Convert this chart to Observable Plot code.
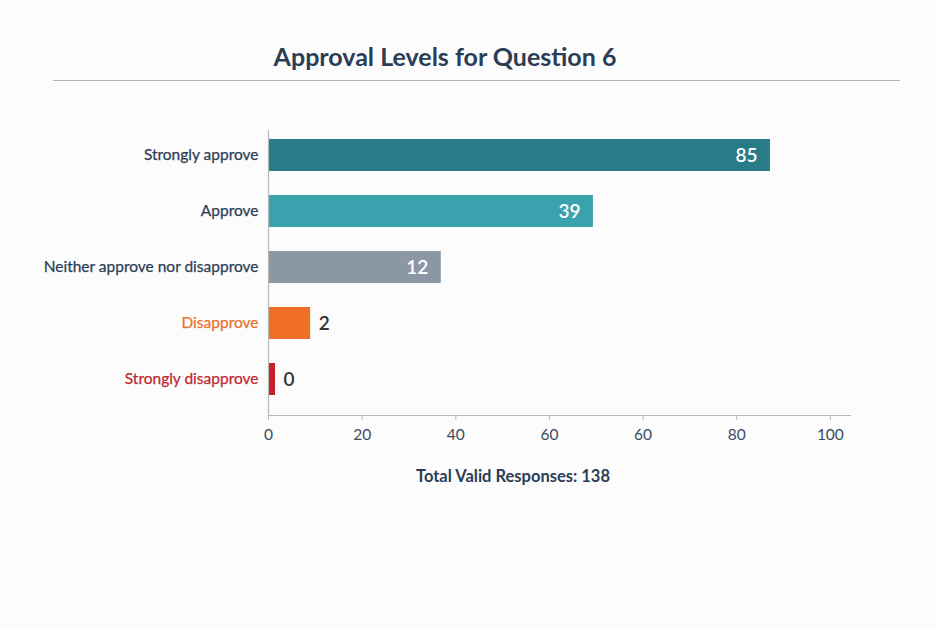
<!DOCTYPE html>
<html>
<head>
<meta charset="utf-8">
<script src="https://cdn.jsdelivr.net/npm/d3@7"></script>
<script src="https://cdn.jsdelivr.net/npm/@observablehq/plot@0.6"></script>
<style>
  html, body { margin: 0; padding: 0; background: #fcfcfc; }
  body { width: 936px; height: 628px; position: relative; overflow: hidden; font-family: Lato, "Open Sans", sans-serif; }
  #title { position: absolute; top: 41px; left: 0; width: 890px; text-align: center; font-size: 25px; font-weight: 700; color: #2b3d57; }
  #rule { position: absolute; top: 80px; left: 53px; width: 847px; height: 0; border-top: 1.5px solid #b5b5b5; }
  #chart { position: absolute; top: 120px; left: 0; }
  #caption { position: absolute; top: 466px; left: 513px; transform: translateX(-50%); white-space: nowrap; font-size: 16.5px; font-weight: 700; color: #2b3d57; }
</style>
</head>
<body>
<div id="title">Approval Levels for Question 6</div>
<div id="rule"></div>
<div id="chart"></div>
<div id="caption">Total Valid Responses: 138</div>
<script>
// Categories and values as shown in the picture
const categories = ["Strongly approve", "Approve", "Neither approve nor disapprove", "Disapprove", "Strongly disapprove"];
const counts = [85, 39, 12, 2, 0];                 // printed value labels
const barLengths = [107.2, 69.4, 36.9, 9.0, 1.5];  // bar ends as measured against the axis
const barColors = ["#2a7b88", "#3aa2ac", "#8c97a4", "#ef6f27", "#c62129"];
const labelColors = ["#2b3d57", "#2b3d57", "#2b3d57", "#e8702a", "#c0272f"];
const tickValues = [0, 20, 40, 60, 80, 100, 120];
const tickLabels = ["0", "20", "40", "60", "60", "80", "100"];

const rows = categories.map((c, i) => ({
  cat: c, count: counts[i], len: barLengths[i],
  barColor: barColors[i], labelColor: labelColors[i], inside: i < 3
}));

const chart = Plot.plot({
  width: 936,
  height: 340,
  marginLeft: 268,
  marginRight: 86,
  marginTop: 10,
  marginBottom: 45,
  style: { background: "transparent", fontFamily: "Lato, 'Open Sans', sans-serif" },
  x: { domain: [0, 124.3] },
  y: { domain: categories, paddingInner: 0.43, paddingOuter: 0.246, align: 0.325, axis: null },
  color: { type: "identity" },
  marks: [
    Plot.barX(rows, { x1: 0, x2: "len", y: "cat", fill: "barColor" }),
    Plot.frame({ anchor: "left", stroke: "#b8b8b8", strokeWidth: 1.2 }),
    Plot.frame({ anchor: "bottom", stroke: "#b8b8b8", strokeWidth: 1.2 }),
    Plot.axisX({ ticks: tickValues, tickFormat: (d, i) => tickLabels[i], tickSize: 5, stroke: "#b8b8b8",
      fill: "#3b4b63", fontSize: 15.5, tickPadding: 8, label: null }),
    Plot.text(rows, { y: "cat", frameAnchor: "left", dx: -10, textAnchor: "end", text: "cat",
      fill: "labelColor", fontSize: 15.5, stroke: "labelColor", strokeWidth: 0.25 }),
    Plot.text(rows.filter(d => d.inside), { x: "len", y: "cat", text: d => String(d.count), textAnchor: "end",
      dx: -13, fill: "white", fontSize: 19, fontWeight: 600 }),
    Plot.text(rows.filter(d => !d.inside), { x: "len", y: "cat", text: d => String(d.count), textAnchor: "start",
      dx: 8, fill: "#333333", fontSize: 19, fontWeight: 600 })
  ]
});
document.getElementById("chart").appendChild(chart);
</script>
</body>
</html>
